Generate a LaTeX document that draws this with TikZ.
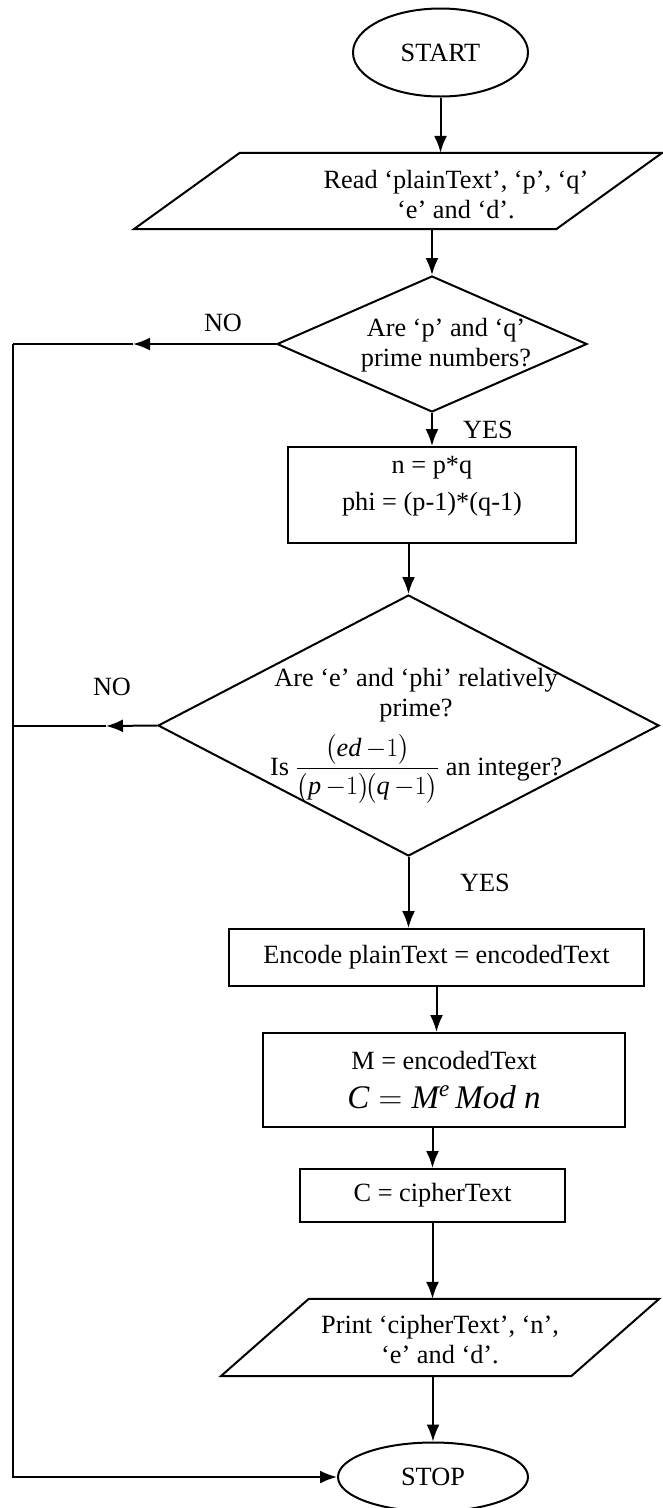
\documentclass[tikz,border=0pt]{standalone}
\usepackage{fix-cm}
\usepackage{amsmath}
\usepackage{fontspec}
\setmainfont{Liberation Serif}
\usetikzlibrary{shapes.geometric,arrows.meta}

\tikzset{
	txt/.style={font=\fontsize{26.3}{30}\selectfont, align=center, inner sep=0pt},
	term/.style={draw, ellipse, line width=2pt, txt},
	proc/.style={draw, rectangle, line width=2pt, txt},
	io/.style={rectangle, inner sep=0pt},
	dec/.style={draw, diamond, line width=2pt, inner sep=0pt},
	edge/.style={line width=2pt},
	flow/.style={edge, -{Latex[length=17pt,width=13pt]}},
}

\begin{document}
\begin{tikzpicture}[x=1pt,y=-1pt]
		\useasboundingbox (0,0) rectangle (663,1508);
		% START
		\node[term, minimum width=175, minimum height=88] (start) at (440.5,52.5) {START};
		% input
		\node[io, minimum width=528, minimum height=76] (read) at (398,191) {};
		\draw[edge] ([xshift=106]read.north west) -- (read.north east) -- ([xshift=-106]read.south east) -- (read.south west) -- cycle;
		\node[txt] (readtxt) at (456,195) {Read ‘plainText’, ‘p’, ‘q’\\‘e’ and ‘d’.};
		% first test
		\node[dec, minimum width=310, minimum height=136] (dia1) at (432,344) {};
		\node[txt] (dia1txt) at (446,345) {Are ‘p’ and ‘q’\\prime numbers?};
		\node[proc, minimum width=288, minimum height=96] (keys) at (432,495) {};
		\node[txt] (keystxt) at (432,486) {n = p*q\\[7pt]phi = (p-1)*(q-1)};
		% second test
		\node[dec, minimum width=501, minimum height=261] (dia2) at (408.5,725.5) {};
		\node[txt] (dia2txt) at (416,736) {Are ‘e’ and ‘phi’ relatively\\prime?\\[11pt]Is $\dfrac{\bigl(\mathit{ed}\,{-}1\bigr)}{\bigl(\mathit{p}\,{-}1\bigr)\!\bigl(\mathit{q}\,{-}1\bigr)}$ an integer?};
		% encryption
		\node[proc, minimum width=415, minimum height=57] (enc) at (436.5,957.5) {Encode plainText = encodedText};
		\node[proc, minimum width=362, minimum height=94] (cipher) at (444,1080) {M = encodedText\\[9pt]{\fontsize{33}{36}\selectfont $\mathit{C}=\mathit{M}^{\mathit{e}}\,\mathit{Mod}\ \mathit{n}$}};
		\node[proc, minimum width=265, minimum height=53] (ctext) at (432.5,1195.5) {C = cipherText};
		% output
		\node[io, minimum width=438, minimum height=77] (print) at (440,1337.5) {};
		\draw[edge] ([xshift=88]print.north west) -- (print.north east) -- ([xshift=-88]print.south east) -- (print.south west) -- cycle;
		\node[txt] (printtxt) at (440,1340) {Print ‘cipherText’, ‘n’,\\‘e’ and ‘d’.};
		% STOP
		\node[term, minimum width=190, minimum height=69] (stop) at (433,1477) {STOP};
		% YES / NO
		\node[txt] (no1) at (223,323) {NO};
		\node[txt] (yes1) at (488,430) {YES};
		\node[txt] (no2) at (112,687) {NO};
		\node[txt] (yes2) at (485,883) {YES};
		\coordinate (no1tip) at (133,344);
		\coordinate (ret1) at (13,344);
		\coordinate (no2tip) at (106,726);
		\coordinate (ret2) at (13,726);
		% main flow
		\draw[flow] (start.south) -- (start.south |- read.north);
		\draw[flow] (dia1.north |- read.south) -- (dia1.north);
		\draw[flow] (dia1.south) -- (dia1.south |- keys.north);
		\draw[flow] (dia2.north |- keys.south) -- (dia2.north);
		\draw[flow] (dia2.south) -- (dia2.south |- enc.north);
		\draw[flow] (enc.south) -- (enc.south |- cipher.north);
		\draw[flow] (ctext.north |- cipher.south) -- (ctext.north);
		\draw[flow] (ctext.south) -- (ctext.south |- print.north);
		\draw[flow] (stop.north |- print.south) -- (stop.north);
		% NO branches
		\draw[flow] (dia1.west) -- (no1tip);
		\draw[edge] (no1tip) -- (ret1);
		\draw[flow] (dia2.west) -- (no2tip);
		\draw[edge] (no2tip) -- (ret2);
		\draw[flow] (ret1) |- (stop.west);
	\end{tikzpicture}
\end{document}
